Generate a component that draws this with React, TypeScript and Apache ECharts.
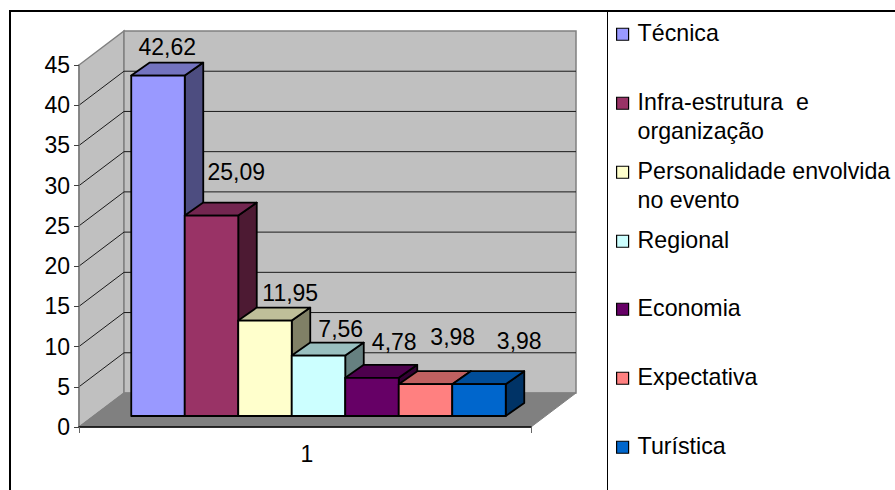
import React, { useEffect, useRef } from "react";
import * as echarts from "echarts";

const categories = ["1"];
const seriesNames = [
  "Técnica",
  "Infra-estrutura  e\norganização",
  "Personalidade envolvida\nno evento",
  "Regional",
  "Economia",
  "Expectativa",
  "Turística",
];
const seriesValues = [42.62, 25.09, 11.95, 7.56, 4.78, 3.98, 3.98];
const valueTicks = [0, 5, 10, 15, 20, 25, 30, 35, 40, 45];

const frontColors = ["#9999FF", "#993366", "#FFFFCC", "#CCFFFF", "#660066", "#FF8080", "#0066CC"];
const topColors = ["#7373BF", "#732650", "#BFBF99", "#99BFBF", "#4D004D", "#BF6060", "#004D99"];
const sideColors = ["#4D4D80", "#4D1A33", "#808066", "#668080", "#330033", "#804040", "#003366"];
// label placement relative to the centre of the bar's top face (dx, dy)
const labelOffsets = [
  [0, -16], [15.5, -31], [16, -15], [13, -14], [13, -23], [18, -34], [31, -30],
];
const legendCentres = [33, 102, 171, 240, 308, 377, 446];

const FONT = "Liberation Sans";
const FONT_SIZE = 23;
const LEGEND_FONT_SIZE = 23.2;
const WALL = { dx: 45, dy: -34 };
const FLOOR = { dx: 13.5, dy: -11, scale: 0.993 };
const BAR = { dx: 18.5, dy: -13, width: 53.5 };
// Square swatches placed inside a taller icon box, so they sit beside the first text line.
const ICON_ONE_LINE = "path://M0 0L0 0M0 3L12 3L12 15L0 15Z";
const ICON_TWO_LINES = "path://M0 0L12 0L12 12L0 12ZM0 38.5L0 38.5";

function fmt(v: number) {
  return v.toFixed(2).replace(".", ",");
}

export default function App() {
  const ref = useRef<HTMLDivElement>(null);

  useEffect(() => {
    document.body.style.margin = "0";
    const chart = echarts.init(ref.current!, undefined, { renderer: "svg" });

    const wallSeries = {
      type: "custom",
      silent: true,
      z: 1,
      data: [[0, 0]],
      encode: { x: 0, y: 1 },
      renderItem: (params: any, api: any) => {
        const cs = params.coordSys;
        const left = cs.x;
        const right = cs.x + cs.width;
        const y0 = api.coord([0, 0])[1];
        const yMax = api.coord([0, 45])[1];
        const { dx, dy } = WALL;
        const children: any[] = [
          {
            type: "polygon",
            shape: { points: [[left, y0], [left + dx, y0 + dy], [left + dx, yMax + dy], [left, yMax]] },
            style: { fill: "#C0C0C0", stroke: "#808080", lineWidth: 1.5 },
          },
          {
            type: "polygon",
            shape: { points: [[left + dx, y0 + dy], [right + dx, y0 + dy], [right + dx, yMax + dy], [left + dx, yMax + dy]] },
            style: { fill: "#C0C0C0", stroke: "#808080", lineWidth: 1.5 },
          },
          {
            type: "polygon",
            shape: { points: [[left, y0], [left + dx, y0 + dy], [right + dx, y0 + dy], [right, y0]] },
            style: { fill: "#808080", stroke: "#808080", lineWidth: 1 },
          },
        ];
        valueTicks.slice(1, -1).forEach((t) => {
          const y = api.coord([0, t])[1];
          children.push({
            type: "polyline",
            shape: { points: [[left, y], [left + dx, y + dy], [right + dx, y + dy]] },
            style: { fill: "none", stroke: "#1a1a1a", lineWidth: 1 },
          });
        });
        return { type: "group", children };
      },
    };

    const barSeries = seriesNames.map((name, i) => ({
      type: "custom",
      name,
      silent: true,
      z: 2,
      itemStyle: { color: frontColors[i], borderColor: "#000", borderWidth: 1 },
      data: [[0, seriesValues[i]]],
      encode: { x: 0, y: 1 },
      renderItem: (params: any, api: any) => {
        const cs = params.coordSys;
        const gap = (cs.width - BAR.width * seriesNames.length) / 2;
        const x0 = cs.x + gap + FLOOR.dx + i * BAR.width;
        const x1 = x0 + BAR.width;
        const y0 = api.coord([0, 0])[1];
        const base = y0 + FLOOR.dy;
        const top = base - (y0 - api.coord([0, api.value(1)])[1]) * FLOOR.scale;
        const { dx, dy } = BAR;
        const edge = { stroke: "#000", lineWidth: 1.8, lineJoin: "round" };
        const [ox, oy] = labelOffsets[i];
        return {
          type: "group",
          children: [
            {
              type: "polygon",
              shape: { points: [[x1, base], [x1 + dx, base + dy], [x1 + dx, top + dy], [x1, top]] },
              style: { fill: sideColors[i], ...edge },
            },
            {
              type: "polygon",
              shape: { points: [[x0, top], [x0 + dx, top + dy], [x1 + dx, top + dy], [x1, top]] },
              style: { fill: topColors[i], ...edge },
            },
            {
              type: "rect",
              shape: { x: x0, y: top, width: BAR.width, height: base - top },
              style: { fill: frontColors[i], ...edge },
            },
            {
              type: "text",
              z2: 50,
              style: {
                text: fmt(api.value(1)),
                x: (x0 + x1) / 2 + dx / 2 + ox,
                y: top + dy + oy,
                align: "center",
                verticalAlign: "middle",
                fontFamily: FONT,
                fontSize: FONT_SIZE,
                fill: "#000",
              },
            },
          ],
        };
      },
    }));

    const legends = seriesNames.map((name, i) => {
      const twoLines = name.includes("\n");
      return {
        data: [name],
        selectedMode: false,
        orient: "vertical",
        icon: twoLines ? ICON_TWO_LINES : ICON_ONE_LINE,
        left: 616,
        top: legendCentres[i] - 15,
        padding: 0,
        itemWidth: 12,
        itemHeight: twoLines ? 38.5 : 15,
        itemStyle: { borderColor: "#000", borderWidth: 1.2 },
        textStyle: {
          fontFamily: FONT,
          fontSize: LEGEND_FONT_SIZE,
          lineHeight: 29.5,
          color: "#000",
          padding: [0, 0, 0, 4],
        },
      };
    });

    chart.setOption({
      animation: false,
      backgroundColor: "#fff",
      grid: { left: 79, top: 65, width: 452, height: 362 },
      legend: legends,
      xAxis: {
        type: "category",
        data: categories,
        z: 3,
        axisLine: { lineStyle: { color: "#000", width: 1.5 } },
        axisTick: { show: true, length: 6, lineStyle: { color: "#666" } },
        axisLabel: { margin: 15, color: "#000", fontFamily: FONT, fontSize: FONT_SIZE, padding: [0, 0, 0, 4] },
      },
      yAxis: {
        type: "value",
        min: 0,
        max: 45,
        interval: 5,
        z: 3,
        splitLine: { show: false },
        axisLine: { show: true, lineStyle: { color: "#808080", width: 1.5 } },
        axisTick: { show: true, length: 5, lineStyle: { color: "#404040" } },
        axisLabel: { margin: 9, color: "#000", fontFamily: FONT, fontSize: FONT_SIZE, padding: [0, 0, 2, 0] },
      },
      series: [wallSeries, ...barSeries],
      graphic: [
        { type: "line", z: 100, shape: { x1: 10, y1: 11, x2: 895, y2: 11 }, style: { stroke: "#000", lineWidth: 2 } },
        { type: "line", z: 100, shape: { x1: 10, y1: 10, x2: 10, y2: 490 }, style: { stroke: "#000", lineWidth: 2 } },
        { type: "line", z: 100, shape: { x1: 607.5, y1: 11, x2: 607.5, y2: 490 }, style: { stroke: "#000", lineWidth: 1 } },
      ],
    });

    return () => chart.dispose();
  }, []);

  return <div ref={ref} style={{ width: 895, height: 490 }} />;
}
